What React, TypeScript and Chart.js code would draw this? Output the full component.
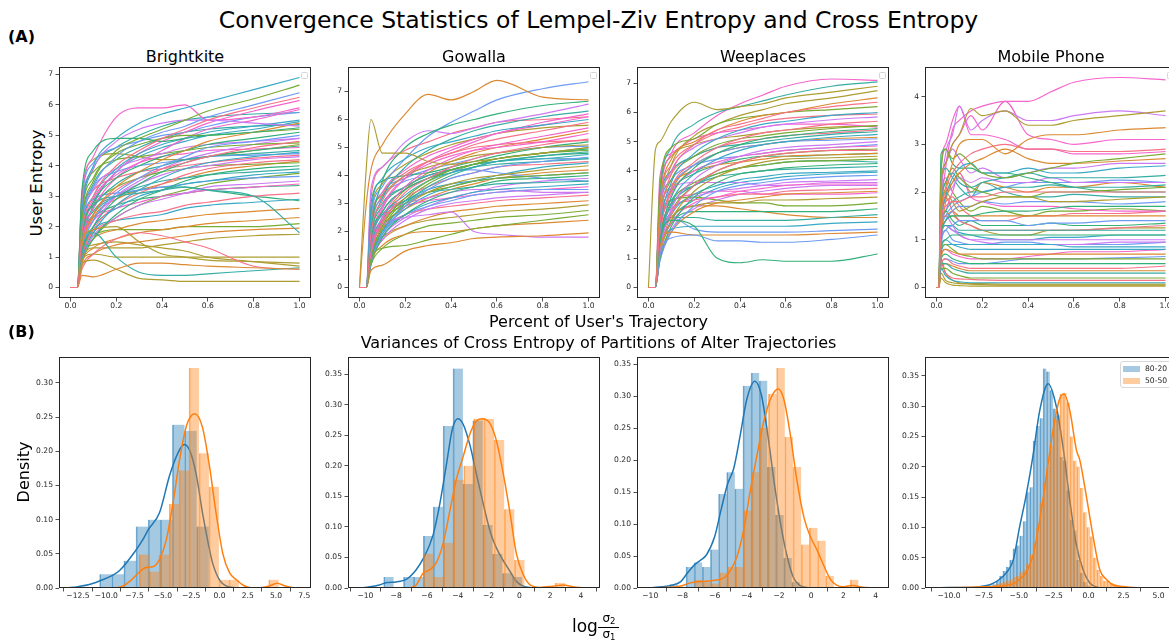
import React, { useEffect, useRef } from "react";
import { Chart, registerables } from "chart.js";

Chart.register(...registerables);

const FONT = "'DejaVu Sans', 'Liberation Sans', sans-serif";
const INK = "#262626";
Chart.defaults.font.family = FONT;

// per-user colours (husl-like cycle)
const USER_COLOURS = ["#f77189", "#dc8932", "#ae9d31", "#77ab31", "#33b07a", "#36ada4", "#38a9c5", "#6e9bf4", "#cc7af4", "#f565cc"];
const BLUE = [31, 119, 180];
const ORANGE = [255, 127, 14];

// fraction of each user's trajectory at which entropy was sampled
const TRAJ_X = [0, 0.03, 0.05, 0.1, 0.2, 0.3, 0.4, 0.5, 0.6, 0.8, 1.0];
const MOBILE_X = [0, 0.01, 0.02, 0.04, 0.07, 0.1, 0.15, 0.2, 0.3, 0.4, 0.5, 0.6, 0.8, 1.0];

const BRIGHTKITE_USERS = [
  [0, 0, 1.8, 3.0, 4.0, 4.5, 4.9, 5.2, 5.5, 5.9, 6.25],
  [0, 0, 0.4, 0.35, 0.6, 0.8, 0.8, 0.75, 0.7, 0.65, 0.6],
  [0, 0, 0.8, 0.9, 0.6, 0.3, 0.25, 0.2, 0.2, 0.2, 0.2],
  [0, 0, 2.2, 3.5, 4.5, 4.9, 5.2, 5.5, 5.8, 6.2, 6.65],
  [0, 0, 3.2, 4.5, 4.9, 4.9, 4.8, 4.9, 5.0, 5.1, 5.25],
  [0, 0, 1.2, 1.8, 1.0, 0.5, 0.4, 0.4, 0.45, 0.55, 0.65],
  [0, 0, 2.5, 4.0, 4.9, 5.4, 5.7, 5.9, 6.1, 6.5, 6.9],
  [0, 0, 2.0, 3.3, 4.3, 4.8, 5.1, 5.3, 5.6, 6.0, 6.4],
  [0, 0, 2.6, 3.9, 4.8, 5.2, 5.4, 5.5, 5.5, 5.4, 5.3],
  [0, 0, 3.0, 4.3, 5.6, 5.9, 5.9, 6.0, 5.5, 5.6, 5.9],
  [0, 0, 0.6, 1.1, 1.6, 1.8, 1.7, 1.5, 1.3, 0.7, 0.6],
  [0, 0, 1.3, 2.4, 3.3, 3.8, 4.2, 4.5, 4.8, 5.1, 5.4],
  [0, 0, 1.5, 1.9, 2.0, 1.5, 1.1, 1.0, 0.9, 0.85, 0.8],
  [0, 0, 2.4, 3.6, 4.4, 4.7, 4.9, 5.0, 5.0, 5.1, 5.2],
  [0, 0, 1.7, 2.8, 3.6, 4.0, 4.3, 4.5, 4.7, 4.9, 5.1],
  [0, 0, 1.8, 2.7, 3.0, 3.1, 3.2, 3.3, 3.2, 3.0, 1.8],
  [0, 0, 1.9, 3.0, 3.9, 4.4, 4.7, 4.9, 5.1, 5.3, 5.5],
  [0, 0, 1.2, 2.2, 3.1, 3.6, 4.0, 4.3, 4.6, 4.8, 5.0],
  [0, 0, 2.0, 3.2, 3.9, 4.2, 4.4, 4.6, 4.7, 4.8, 4.9],
  [0, 0, 1.5, 2.6, 3.6, 4.1, 4.5, 4.9, 5.2, 5.5, 5.85],
  [0, 0, 1.4, 2.4, 3.2, 3.6, 3.9, 4.1, 4.3, 4.6, 4.8],
  [0, 0, 0.8, 1.3, 1.6, 1.8, 1.9, 2.0, 2.1, 2.2, 2.3],
  [0, 0, 0.9, 1.1, 1.0, 1.0, 1.0, 1.0, 1.0, 1.0, 1.0],
  [0, 0, 2.8, 3.8, 4.2, 4.3, 4.4, 4.5, 4.6, 4.7, 4.75],
  [0, 0, 1.1, 2.0, 2.9, 3.4, 3.8, 4.1, 4.3, 4.5, 4.65],
  [0, 0, 1.6, 2.6, 3.4, 3.8, 4.0, 4.2, 4.3, 4.4, 4.5],
  [0, 0, 0.9, 1.8, 2.7, 3.2, 3.6, 3.9, 4.1, 4.3, 4.45],
  [0, 0, 2.2, 3.3, 3.8, 4.0, 4.1, 4.2, 4.3, 4.35, 4.4],
  [0, 0, 1.3, 2.2, 3.0, 3.4, 3.7, 3.9, 4.0, 4.2, 4.3],
  [0, 0, 1.6, 2.8, 3.8, 4.4, 4.8, 5.1, 5.4, 5.8, 6.15],
  [0, 0, 1.0, 1.9, 2.7, 3.1, 3.4, 3.7, 3.9, 4.1, 4.2],
  [0, 0, 0.7, 1.1, 1.4, 1.5, 1.6, 1.7, 1.8, 1.9, 1.95],
  [0, 0, 0.9, 1.3, 1.3, 1.3, 1.4, 1.5, 1.6, 1.7, 1.75],
  [0, 0, 1.8, 2.7, 3.3, 3.6, 3.8, 3.9, 4.0, 4.05, 4.1],
  [0, 0, 0.8, 1.6, 2.4, 2.9, 3.2, 3.5, 3.7, 3.9, 4.0],
  [0, 0, 1.5, 2.4, 3.0, 3.3, 3.5, 3.6, 3.7, 3.8, 3.9],
  [0, 0, 1.2, 2.0, 2.6, 3.0, 3.2, 3.4, 3.5, 3.7, 3.8],
  [0, 0, 2.0, 2.9, 3.1, 3.2, 3.3, 3.4, 3.5, 3.6, 3.65],
  [0, 0, 0.9, 1.7, 2.3, 2.7, 2.9, 3.1, 3.3, 3.4, 3.5],
  [0, 0, 1.4, 2.2, 2.6, 2.8, 3.0, 3.1, 3.2, 3.3, 3.4],
  [0, 0, 1.0, 1.8, 2.2, 2.4, 2.5, 2.7, 2.8, 3.0, 3.1],
  [0, 0, 1.0, 1.6, 1.9, 2.1, 2.2, 2.3, 2.4, 2.5, 2.6],
  [0, 0, 1.1, 1.4, 1.5, 1.4, 1.3, 1.2, 1.0, 0.85, 0.7],
  [0, 0, 1.2, 1.7, 1.9, 1.9, 1.9, 2.0, 2.0, 2.0, 2.1],
  [0, 0, 1.6, 2.5, 3.0, 3.2, 3.3, 3.3, 3.2, 3.0, 2.85],
  [0, 0, 2.1, 3.4, 4.2, 4.6, 4.9, 5.1, 5.2, 5.3, 5.35],
  [0, 0, 1.4, 2.7, 3.8, 4.3, 4.6, 4.8, 5.0, 5.2, 5.45],
  [0, 0, 2.9, 4.1, 4.6, 4.8, 5.0, 5.1, 5.3, 5.6, 5.75],
  [0, 0, 1.0, 2.0, 3.0, 3.5, 3.9, 4.2, 4.4, 4.7, 4.9],
  [0, 0, 1.7, 2.9, 3.7, 4.1, 4.3, 4.4, 4.5, 4.55, 4.6],
  [0, 0, 2.3, 3.2, 3.6, 3.8, 3.9, 4.0, 4.1, 4.25, 4.35],
  [0, 0, 1.3, 2.3, 2.9, 3.2, 3.4, 3.6, 3.8, 4.0, 4.15],
  [0, 0, 3.1, 4.2, 4.4, 4.3, 4.2, 4.2, 4.3, 4.5, 4.7],
  [0, 0, 0.9, 1.6, 2.3, 2.7, 3.0, 3.2, 3.4, 3.6, 3.75],
  [0, 0, 1.6, 2.3, 2.7, 2.9, 3.0, 3.1, 3.2, 3.3, 3.35],
  [0, 0, 2.4, 3.9, 4.6, 5.0, 5.3, 5.5, 5.6, 5.7, 5.75],
  [0, 0, 1.1, 1.9, 2.2, 2.3, 2.4, 2.6, 2.7, 2.8, 2.9],
];

const GOWALLA_USERS = [
  [0, 0, 1.9, 3.1, 4.0, 4.5, 4.8, 5.1, 5.3, 5.6, 5.9],
  [0, 3.0, 4.2, 5.1, 6.2, 6.9, 6.7, 7.0, 7.4, 6.8, 6.7],
  [0, 4.3, 6.0, 4.8, 4.8, 4.5, 4.4, 4.5, 4.6, 4.8, 5.0],
  [0, 0, 1.0, 1.4, 1.5, 1.7, 1.9, 2.1, 2.2, 2.4, 2.6],
  [0, 0, 2.0, 3.8, 5.0, 5.5, 5.8, 6.0, 6.2, 6.5, 6.65],
  [0, 0, 1.8, 3.2, 4.3, 4.9, 5.3, 5.6, 5.8, 6.1, 6.3],
  [0, 0, 2.7, 3.9, 4.6, 5.0, 5.2, 5.4, 5.6, 5.8, 6.0],
  [0, 0, 2.5, 3.6, 4.6, 5.4, 5.9, 6.3, 6.7, 7.1, 7.35],
  [0, 0, 3.5, 4.3, 5.2, 5.6, 5.5, 5.7, 5.9, 6.2, 6.55],
  [0, 0, 1.3, 2.5, 3.6, 4.2, 4.6, 4.9, 5.1, 5.4, 5.7],
  [0, 0, 1.2, 2.3, 3.4, 3.9, 4.3, 4.6, 4.8, 5.1, 5.3],
  [0, 0, 0.6, 0.8, 1.3, 1.5, 1.6, 1.75, 1.8, 1.85, 1.95],
  [0, 0, 2.4, 3.3, 4.0, 4.3, 4.5, 4.7, 4.8, 5.0, 5.1],
  [0, 0, 1.1, 2.2, 3.2, 3.8, 4.2, 4.4, 4.6, 4.8, 5.0],
  [0, 0, 1.7, 2.7, 3.5, 3.9, 4.2, 4.4, 4.6, 4.8, 4.95],
  [0, 0, 1.0, 2.0, 3.0, 3.6, 4.0, 4.3, 4.5, 4.7, 4.85],
  [0, 0, 1.4, 2.5, 3.3, 3.8, 4.1, 4.3, 4.5, 4.6, 4.75],
  [0, 0, 0.9, 1.9, 2.9, 3.5, 3.9, 4.1, 4.3, 4.5, 4.65],
  [0, 0, 1.4, 2.2, 2.5, 2.6, 2.7, 2.0, 1.9, 1.8, 1.8],
  [0, 0, 1.6, 2.9, 3.9, 4.4, 4.7, 4.9, 5.0, 5.2, 5.5],
  [0, 0, 1.5, 2.4, 3.2, 3.6, 3.9, 4.1, 4.3, 4.4, 4.5],
  [0, 0, 0.9, 1.5, 1.9, 2.0, 2.0, 2.1, 2.2, 2.3, 2.4],
  [0, 0, 1.1, 2.1, 2.9, 3.4, 3.7, 3.9, 4.0, 4.2, 4.35],
  [0, 0, 1.3, 2.3, 3.0, 3.4, 3.6, 3.8, 3.9, 4.0, 4.1],
  [0, 0, 0.8, 1.8, 2.6, 3.1, 3.4, 3.6, 3.8, 3.9, 4.0],
  [0, 0, 1.6, 2.6, 3.1, 3.4, 3.5, 3.6, 3.7, 3.75, 3.8],
  [0, 0, 1.0, 1.9, 2.6, 3.0, 3.2, 3.4, 3.5, 3.6, 3.7],
  [0, 0, 1.2, 2.0, 2.6, 2.9, 3.1, 3.3, 3.4, 3.5, 3.5],
  [0, 0, 0.9, 1.7, 2.4, 2.8, 3.0, 3.1, 3.2, 3.3, 3.4],
  [0, 0, 2.2, 3.4, 4.2, 4.7, 5.0, 5.3, 5.5, 5.9, 6.2],
  [0, 0, 1.4, 2.1, 2.6, 2.8, 2.9, 3.0, 3.1, 3.2, 3.3],
  [0, 0, 1.0, 1.7, 2.2, 2.5, 2.7, 2.8, 2.9, 3.0, 3.1],
  [0, 0, 1.2, 1.8, 2.2, 2.4, 2.5, 2.6, 2.7, 2.8, 2.95],
  [0, 0, 0.8, 1.4, 1.9, 2.2, 2.3, 2.4, 2.5, 2.6, 2.75],
  [0, 0, 3.0, 3.8, 4.0, 4.1, 4.3, 4.5, 4.7, 5.0, 5.2],
  [0, 0, 1.9, 3.0, 3.6, 4.0, 4.2, 4.4, 4.5, 4.6, 4.6],
  [0, 0, 1.3, 2.4, 3.1, 3.5, 3.7, 3.8, 3.9, 4.0, 4.1],
  [0, 0, 2.1, 3.2, 3.8, 4.0, 4.2, 4.2, 4.1, 3.9, 3.8],
  [0, 0, 1.7, 2.6, 3.0, 3.2, 3.4, 3.5, 3.5, 3.4, 3.4],
  [0, 0, 1.5, 2.8, 3.9, 4.5, 4.9, 5.2, 5.5, 5.8, 6.1],
  [0, 0, 2.0, 3.3, 4.1, 4.5, 4.8, 5.0, 5.1, 5.2, 5.25],
  [0, 0, 1.2, 2.4, 3.5, 4.1, 4.5, 4.8, 5.0, 5.3, 5.6],
  [0, 0, 2.6, 3.7, 4.4, 4.8, 5.1, 5.3, 5.5, 5.7, 5.8],
  [0, 0, 1.0, 2.1, 3.1, 3.7, 4.1, 4.4, 4.6, 4.8, 4.9],
  [0, 0, 1.8, 2.9, 3.6, 4.0, 4.2, 4.4, 4.5, 4.7, 4.8],
  [0, 0, 1.5, 2.7, 3.5, 3.9, 4.1, 4.3, 4.4, 4.5, 4.6],
  [0, 0, 1.1, 2.0, 2.8, 3.3, 3.6, 3.8, 4.0, 4.3, 4.45],
  [0, 0, 2.3, 3.4, 3.9, 4.2, 4.4, 4.6, 4.8, 5.0, 5.05],
  [0, 0, 0.9, 1.8, 2.5, 2.9, 3.2, 3.4, 3.6, 3.8, 3.9],
  [0, 0, 1.4, 2.4, 2.9, 3.1, 3.2, 3.3, 3.4, 3.5, 3.6],
  [0, 0, 3.2, 4.3, 4.9, 5.2, 5.5, 5.7, 5.9, 6.0, 6.1],
  [0, 0, 1.3, 2.2, 2.8, 3.2, 3.5, 3.7, 3.9, 4.1, 4.2],
];

const WEEPLACES_USERS = [
  [0, 0, 2.2, 3.9, 4.9, 5.4, 5.6, 5.8, 6.0, 6.2, 6.35],
  [0, 0, 2.8, 4.4, 5.0, 5.4, 5.7, 5.9, 6.0, 6.3, 6.5],
  [0, 4.7, 5.0, 5.7, 6.35, 6.1, 6.2, 6.3, 6.5, 6.7, 6.9],
  [0, 0, 3.5, 4.8, 5.1, 5.6, 5.8, 5.9, 6.0, 6.1, 6.2],
  [0, 0, 1.6, 2.3, 2.1, 1.0, 0.85, 0.95, 0.9, 0.9, 1.15],
  [0, 0, 3.2, 4.8, 5.6, 6.0, 6.2, 6.4, 6.6, 6.9, 7.05],
  [0, 0, 2.0, 3.6, 4.6, 5.1, 5.4, 5.6, 5.7, 5.9, 6.0],
  [0, 0, 1.1, 1.7, 1.8, 1.6, 1.6, 1.55, 1.55, 1.65, 1.8],
  [0, 0, 2.6, 4.0, 4.8, 5.1, 5.3, 5.5, 5.6, 5.75, 5.85],
  [0, 0, 3.0, 4.6, 5.3, 5.9, 6.3, 6.6, 6.9, 7.15, 7.1],
  [0, 0, 1.8, 3.4, 4.3, 4.8, 5.1, 5.3, 5.4, 5.6, 5.7],
  [0, 0, 1.4, 1.9, 1.8, 1.8, 1.8, 1.8, 1.8, 1.85, 1.9],
  [0, 0, 2.5, 4.2, 5.2, 5.6, 5.9, 6.1, 6.3, 6.5, 6.75],
  [0, 0, 2.3, 3.7, 4.5, 4.9, 5.1, 5.2, 5.3, 5.45, 5.55],
  [0, 0, 1.6, 3.1, 4.1, 4.6, 4.9, 5.1, 5.2, 5.35, 5.45],
  [0, 0, 2.9, 4.0, 4.5, 4.8, 4.9, 5.0, 5.1, 5.25, 5.35],
  [0, 0, 1.5, 2.9, 3.9, 4.4, 4.7, 4.9, 5.0, 5.15, 5.25],
  [0, 0, 2.1, 3.4, 4.2, 4.6, 4.8, 4.9, 5.0, 5.05, 5.1],
  [0, 0, 1.3, 2.7, 3.7, 4.2, 4.5, 4.7, 4.8, 4.9, 5.0],
  [0, 0, 1.9, 3.2, 4.0, 4.3, 4.5, 4.6, 4.7, 4.8, 4.85],
  [0, 0, 1.2, 2.5, 3.5, 4.0, 4.3, 4.5, 4.6, 4.7, 4.7],
  [0, 0, 2.4, 3.5, 4.0, 4.2, 4.3, 4.4, 4.5, 4.55, 4.6],
  [0, 0, 1.1, 2.3, 3.3, 3.8, 4.1, 4.3, 4.4, 4.45, 4.5],
  [0, 0, 1.7, 2.9, 3.6, 3.9, 4.1, 4.2, 4.3, 4.35, 4.4],
  [0, 0, 1.0, 2.1, 3.1, 3.6, 3.9, 4.0, 4.1, 4.2, 4.25],
  [0, 0, 2.0, 3.0, 3.5, 3.8, 3.9, 4.0, 4.05, 4.1, 4.15],
  [0, 0, 1.4, 2.5, 3.2, 3.5, 3.7, 3.8, 3.9, 3.95, 4.0],
  [0, 0, 0.9, 1.9, 2.8, 3.3, 3.5, 3.6, 3.7, 3.8, 3.85],
  [0, 0, 1.6, 2.6, 3.1, 3.3, 3.4, 3.5, 3.6, 3.65, 3.7],
  [0, 0, 1.2, 2.2, 2.9, 3.1, 3.3, 3.4, 3.5, 3.55, 3.55],
  [0, 0, 1.8, 2.7, 3.0, 3.1, 3.2, 3.2, 3.3, 3.35, 3.4],
  [0, 0, 1.0, 1.9, 2.6, 2.9, 3.0, 3.1, 3.2, 3.25, 3.3],
  [0, 0, 1.5, 2.4, 2.8, 2.9, 2.9, 3.0, 3.0, 3.05, 3.1],
  [0, 0, 2.2, 3.0, 3.1, 3.0, 2.9, 2.9, 2.8, 2.8, 2.9],
  [0, 0, 1.3, 2.2, 2.6, 2.6, 2.6, 2.6, 2.6, 2.6, 2.7],
  [0, 0, 1.7, 2.4, 2.4, 2.3, 2.3, 2.3, 2.3, 2.4, 2.5],
  [0, 0, 1.2, 2.0, 2.1, 2.1, 2.1, 2.1, 2.1, 2.2, 2.25],
  [0, 0, 1.9, 2.4, 2.0, 1.9, 1.9, 1.9, 1.9, 1.95, 2.0],
  [0, 0, 2.5, 3.4, 3.6, 3.6, 3.6, 3.5, 3.5, 3.6, 3.6],
  [0, 0, 3.8, 4.6, 5.1, 5.3, 5.4, 5.5, 5.6, 5.6, 5.5],
  [0, 0, 2.7, 3.9, 4.5, 4.8, 5.0, 5.1, 5.2, 5.3, 5.4],
  [0, 0, 1.9, 3.3, 4.2, 4.6, 4.8, 4.9, 5.0, 5.1, 5.15],
  [0, 0, 3.3, 4.5, 4.9, 5.1, 5.2, 5.3, 5.4, 5.5, 5.55],
  [0, 0, 1.4, 2.6, 3.5, 4.0, 4.3, 4.5, 4.6, 4.7, 4.75],
  [0, 0, 2.2, 3.3, 3.9, 4.2, 4.4, 4.5, 4.5, 4.55, 4.6],
  [0, 0, 1.6, 2.8, 3.5, 3.9, 4.1, 4.2, 4.3, 4.35, 4.3],
  [0, 0, 1.2, 2.3, 3.0, 3.4, 3.6, 3.7, 3.8, 3.9, 3.95],
  [0, 0, 2.6, 3.7, 4.2, 4.4, 4.5, 4.6, 4.7, 4.8, 4.9],
  [0, 0, 1.0, 2.0, 2.7, 3.0, 3.2, 3.3, 3.4, 3.5, 3.5],
  [0, 0, 2.0, 2.9, 3.2, 3.3, 3.3, 3.2, 3.2, 3.2, 3.25],
  [0, 0, 2.9, 4.2, 4.9, 5.3, 5.5, 5.7, 5.8, 5.9, 5.95],
  [0, 0, 1.5, 2.4, 2.8, 2.8, 2.7, 2.6, 2.5, 2.4, 2.4],
];

const MOBILE_USERS = [
  [0, 0, 1.4, 1.7, 1.8, 1.8, 1.9, 1.9, 2.0, 2.0, 2.0, 2.0, 2.0, 2.0],
  [0, 0, 1.5, 2.1, 2.6, 3.0, 3.1, 3.1, 2.8, 3.1, 3.2, 3.2, 3.3, 3.35],
  [0, 0, 2.2, 2.6, 3.0, 3.2, 3.75, 3.6, 3.7, 3.4, 3.4, 3.5, 3.6, 3.7],
  [0, 0, 2.4, 2.9, 2.7, 2.8, 2.6, 2.4, 2.3, 2.4, 2.5, 2.6, 2.7, 2.8],
  [0, 0, 1.1, 1.4, 1.5, 1.5, 1.5, 1.55, 1.6, 1.6, 1.65, 1.7, 1.7, 1.7],
  [0, 0, 1.6, 2.2, 2.4, 2.2, 2.1, 2.2, 2.3, 2.4, 2.3, 2.3, 2.3, 2.35],
  [0, 0, 1.3, 1.9, 2.3, 2.5, 2.6, 2.4, 2.4, 2.5, 2.4, 2.4, 2.5, 2.55],
  [0, 0, 0.9, 1.2, 1.3, 1.4, 1.4, 1.4, 1.4, 1.3, 1.35, 1.35, 1.4, 1.4],
  [0, 0, 1.8, 2.8, 3.2, 3.8, 3.3, 3.5, 3.7, 3.5, 3.5, 3.6, 3.7, 3.6],
  [0, 0, 1.5, 2.5, 3.3, 3.5, 3.7, 3.8, 3.9, 3.9, 4.1, 4.3, 4.4, 4.35],
  [0, 0, 1.2, 2.0, 2.4, 2.6, 2.8, 2.9, 3.0, 2.9, 2.9, 2.85, 2.85, 2.9],
  [0, 0, 1.0, 1.8, 2.2, 2.4, 2.6, 2.7, 2.9, 2.7, 2.6, 2.6, 2.65, 2.7],
  [0, 0, 1.9, 2.0, 1.8, 1.6, 1.7, 1.8, 1.9, 1.9, 1.8, 1.8, 1.85, 1.9],
  [0, 0, 1.8, 2.2, 2.5, 2.3, 2.1, 2.0, 1.9, 1.9, 2.0, 2.0, 2.05, 2.1],
  [0, 0, 0.8, 1.0, 1.1, 1.1, 1.1, 1.1, 1.1, 1.1, 1.1, 1.1, 1.1, 1.1],
  [0, 0, 1.2, 1.6, 1.8, 1.9, 2.0, 2.0, 2.1, 2.1, 2.15, 2.1, 2.1, 2.15],
  [0, 0, 0.9, 1.0, 0.9, 0.85, 0.8, 0.8, 0.8, 0.8, 0.8, 0.8, 0.8, 0.8],
  [0, 0, 1.0, 1.4, 1.6, 1.7, 1.7, 1.8, 1.75, 1.8, 1.8, 1.8, 1.75, 1.8],
  [0, 0, 1.4, 1.9, 2.1, 2.3, 2.2, 2.3, 2.2, 2.2, 2.3, 2.2, 2.2, 2.2],
  [0, 0, 2.0, 2.6, 3.0, 3.2, 3.6, 3.3, 3.9, 3.2, 3.1, 3.0, 3.1, 3.1],
  [0, 0, 0.5, 0.6, 0.5, 0.45, 0.4, 0.4, 0.4, 0.4, 0.4, 0.4, 0.4, 0.45],
  [0, 0, 0.6, 0.8, 0.75, 0.7, 0.7, 0.7, 0.7, 0.7, 0.7, 0.7, 0.7, 0.7],
  [0, 0, 0.3, 0.15, 0.1, 0.08, 0.07, 0.06, 0.05, 0.05, 0.05, 0.05, 0.05, 0.05],
  [0, 0, 0.8, 0.9, 0.8, 0.7, 0.65, 0.6, 0.6, 0.6, 0.6, 0.6, 0.6, 0.6],
  [0, 0, 2.8, 2.9, 2.6, 2.5, 2.5, 2.4, 2.4, 2.3, 2.2, 2.1, 2.0, 2.0],
  [0, 0, 1.2, 1.3, 1.3, 1.2, 1.2, 1.2, 1.2, 1.2, 1.2, 1.2, 1.2, 1.2],
  [0, 0, 0.7, 0.9, 0.9, 0.9, 0.9, 0.9, 0.9, 0.9, 0.9, 0.85, 0.85, 0.85],
  [0, 0, 1.1, 1.5, 1.7, 1.8, 1.9, 2.0, 2.1, 2.2, 2.2, 2.2, 2.25, 2.2],
  [0, 0, 1.0, 1.3, 1.2, 1.1, 1.0, 1.0, 1.0, 1.0, 1.0, 1.0, 1.0, 1.0],
  [0, 0, 1.2, 1.6, 2.0, 2.4, 1.9, 1.8, 1.7, 1.7, 1.7, 1.65, 1.6, 1.6],
  [0, 0, 1.5, 1.9, 1.6, 1.4, 1.3, 1.2, 1.2, 1.2, 1.2, 1.2, 1.25, 1.3],
  [0, 0, 1.3, 1.5, 1.6, 1.5, 1.5, 1.5, 1.5, 1.5, 1.5, 1.5, 1.5, 1.5],
  [0, 0, 0.2, 0.1, 0.05, 0.04, 0.03, 0.03, 0.03, 0.03, 0.03, 0.03, 0.03, 0.03],
  [0, 0, 0.4, 0.4, 0.3, 0.25, 0.2, 0.2, 0.2, 0.2, 0.2, 0.2, 0.2, 0.2],
  [0, 0, 0.6, 0.7, 0.6, 0.55, 0.5, 0.5, 0.5, 0.5, 0.5, 0.5, 0.5, 0.5],
  [0, 0, 0.5, 0.5, 0.4, 0.35, 0.3, 0.3, 0.3, 0.3, 0.3, 0.3, 0.3, 0.3],
  [0, 0, 0.4, 0.25, 0.15, 0.12, 0.1, 0.1, 0.1, 0.1, 0.1, 0.1, 0.1, 0.1],
  [0, 0, 0.5, 0.6, 0.55, 0.5, 0.5, 0.5, 0.55, 0.6, 0.6, 0.6, 0.62, 0.65],
  [0, 0, 1.4, 1.5, 1.3, 1.1, 1.0, 0.95, 0.9, 0.9, 0.9, 0.9, 0.95, 0.95],
  [0, 0, 2.5, 3.0, 3.5, 3.8, 3.2, 3.2, 3.1, 2.9, 2.9, 2.8, 2.8, 2.85],
  [0, 0, 0.5, 0.3, 0.2, 0.18, 0.17, 0.16, 0.15, 0.15, 0.15, 0.15, 0.15, 0.15],
  [0, 0, 1.6, 2.0, 2.2, 2.4, 2.0, 2.2, 2.1, 2.0, 2.1, 2.1, 2.2, 2.1],
  [0, 0, 0.6, 0.3, 0.15, 0.1, 0.08, 0.08, 0.07, 0.07, 0.07, 0.07, 0.07, 0.07],
  [0, 0, 1.7, 2.3, 2.0, 1.8, 1.6, 1.7, 1.6, 1.5, 1.6, 1.6, 1.65, 1.6],
  [0, 0, 1.3, 1.6, 1.4, 1.3, 1.4, 1.3, 1.3, 1.3, 1.35, 1.3, 1.3, 1.35],
  [0, 0, 2.0, 2.5, 2.3, 2.1, 1.9, 2.2, 2.0, 1.9, 1.9, 1.95, 1.9, 1.9],
  [0, 0, 1.1, 1.3, 1.2, 1.15, 1.1, 1.05, 1.0, 1.0, 1.05, 1.05, 1.1, 1.1],
  [0, 0, 0.9, 1.2, 1.0, 0.95, 0.9, 0.9, 0.95, 0.95, 0.9, 0.9, 0.9, 0.95],
  [0, 0, 2.2, 2.6, 2.9, 2.7, 2.4, 2.5, 2.3, 2.4, 2.5, 2.5, 2.6, 2.6],
  [0, 0, 0.7, 0.8, 0.7, 0.65, 0.6, 0.6, 0.6, 0.65, 0.7, 0.75, 0.75, 0.8],
  [0, 0, 1.5, 1.8, 1.9, 1.7, 1.5, 1.4, 1.4, 1.5, 1.5, 1.55, 1.55, 1.6],
  [0, 0, 0.45, 0.5, 0.45, 0.4, 0.35, 0.35, 0.35, 0.35, 0.35, 0.35, 0.35, 0.35],
  [0, 0, 1.0, 1.4, 1.5, 1.4, 1.3, 1.2, 1.1, 1.1, 1.2, 1.2, 1.25, 1.25],
];

// histograms of log(sigma2/sigma1): first bin edge, bin width, density per bin
const BK_8020_HIST = { start: -10.59, width: 1.072, density: [0.02, 0.02, 0.04, 0.09, 0.1, 0.1, 0.239, 0.23, 0.09] };
const BK_5050_HIST = { start: -7.09, width: 0.88, density: [0.049, 0.024, 0.049, 0.123, 0.172, 0.322, 0.197, 0.148, 0.012, 0.012, 0, 0, 0, 0.012] };
const GW_8020_HIST = { start: -8.81, width: 0.643, density: [0.018, 0, 0.018, 0.018, 0.085, 0.133, 0.265, 0.359, 0.17, 0.274, 0.103, 0.056, 0.024, 0.018] };
const GW_5050_HIST = { start: -6.25, width: 0.659, density: [0.056, 0.018, 0.074, 0.177, 0.2, 0.277, 0.277, 0.242, 0.129, 0.046, 0, 0, 0, 0.008] };
const WP_8020_HIST = { start: -8.785, width: 0.505, density: [0.006, 0, 0.033, 0.04, 0.033, 0.06, 0.147, 0.181, 0.155, 0.316, 0.336, 0.324, 0.189, 0.114, 0.047, 0.009] };
const WP_5050_HIST = { start: -7.23, width: 0.508, density: [0.013, 0.009, 0.007, 0.024, 0.033, 0.033, 0.121, 0.181, 0.25, 0.303, 0.344, 0.236, 0.189, 0.068, 0.094, 0.074, 0.019, 0, 0, 0.013] };
const MP_8020_HIST = {
  start: -7.58, width: 0.24,
  density: [0.003, 0.003, 0.004, 0.006, 0.012, 0.02, 0.028, 0.035, 0.046, 0.065, 0.07, 0.086, 0.11, 0.158, 0.166, 0.243, 0.267, 0.28, 0.362, 0.357, 0.326, 0.296, 0.285, 0.216, 0.21, 0.161, 0.112, 0.095, 0.046, 0.025, 0.01, 0.004, 0.002],
};
const MP_5050_HIST = {
  start: -7.1, width: 0.24,
  density: [0.002, 0.004, 0.006, 0.008, 0.01, 0.012, 0.014, 0.018, 0.02, 0.026, 0.03, 0.04, 0.055, 0.075, 0.1, 0.14, 0.175, 0.2, 0.235, 0.279, 0.278, 0.32, 0.322, 0.306, 0.25, 0.21, 0.2, 0.165, 0.125, 0.1, 0.085, 0.05, 0.03, 0.02, 0.012, 0.012, 0.008, 0.006, 0.004, 0.003],
};

// kernel density estimates as [x, density] pairs
const BK_8020_KDE = [[-13.5, 0], [-12.5, 0.002], [-11.5, 0.005], [-10.5, 0.011], [-9.5, 0.018], [-8.8, 0.026], [-7.4, 0.055], [-6.8, 0.07], [-6.3, 0.085], [-5.3, 0.11], [-4.4, 0.165], [-3.6, 0.2], [-3.1, 0.21], [-2.6, 0.2], [-2.05, 0.166], [-1.5, 0.11], [-1.0, 0.066], [-0.6, 0.036], [0.0, 0.012], [0.6, 0.003], [1.5, 0]];
const BK_5050_KDE = [[-9.2, 0], [-8.5, 0.003], [-7.9, 0.01], [-7.1, 0.023], [-6.5, 0.03], [-5.9, 0.031], [-5.3, 0.042], [-4.7, 0.07], [-4.1, 0.125], [-3.5, 0.19], [-2.9, 0.238], [-2.2, 0.255], [-1.5, 0.235], [-0.9, 0.18], [-0.3, 0.11], [0.3, 0.05], [0.9, 0.022], [1.5, 0.012], [2.1, 0.004], [2.8, 0.0005], [3.6, 0.0005], [4.4, 0.003], [5.1, 0.007], [5.8, 0.003], [6.5, 0.0005], [7.2, 0]];
const GW_8020_KDE = [[-10.4, 0], [-9.7, 0.002], [-9.1, 0.005], [-8.6, 0.009], [-8.0, 0.01], [-7.3, 0.015], [-6.7, 0.03], [-6.2, 0.05], [-5.6, 0.087], [-5.2, 0.133], [-4.75, 0.2], [-4.35, 0.26], [-4.0, 0.277], [-3.65, 0.268], [-3.2, 0.233], [-2.8, 0.188], [-2.3, 0.133], [-1.9, 0.093], [-1.5, 0.066], [-1.05, 0.045], [-0.6, 0.027], [-0.2, 0.011], [0.25, 0.003], [0.9, 0]];
const GW_5050_KDE = [[-7.1, 0], [-6.7, 0.005], [-6.25, 0.024], [-5.8, 0.03], [-5.4, 0.041], [-4.95, 0.073], [-4.5, 0.128], [-4.1, 0.177], [-3.65, 0.215], [-3.2, 0.253], [-2.8, 0.273], [-2.4, 0.277], [-1.9, 0.269], [-1.5, 0.242], [-1.05, 0.188], [-0.6, 0.122], [-0.2, 0.057], [0.25, 0.022], [0.7, 0.005], [1.3, 0.001], [2.2, 0.003], [2.85, 0.005], [3.5, 0.002], [4.15, 0]];
const WP_8020_KDE = [[-10, 0], [-9.3, 0.002], [-8.7, 0.004], [-8.1, 0.01], [-7.7, 0.023], [-7.3, 0.035], [-6.9, 0.043], [-6.5, 0.052], [-6.0, 0.08], [-5.6, 0.122], [-5.2, 0.162], [-4.8, 0.188], [-4.4, 0.24], [-4.0, 0.295], [-3.5, 0.323], [-3.1, 0.302], [-2.7, 0.24], [-2.3, 0.165], [-1.9, 0.1], [-1.5, 0.05], [-1.1, 0.016], [-0.7, 0.004], [-0.1, 0]];
const WP_5050_KDE = [[-10, 0], [-8.9, 0.001], [-8.1, 0.003], [-7.5, 0.008], [-6.9, 0.01], [-6.0, 0.012], [-5.4, 0.016], [-5.0, 0.028], [-4.6, 0.05], [-4.2, 0.09], [-3.8, 0.15], [-3.35, 0.21], [-2.95, 0.26], [-2.5, 0.297], [-2.05, 0.311], [-1.7, 0.295], [-1.3, 0.24], [-0.9, 0.17], [-0.45, 0.11], [-0.05, 0.08], [0.35, 0.06], [0.8, 0.034], [1.2, 0.013], [1.6, 0.004], [2.0, 0.002], [2.6, 0.004], [3.2, 0.001], [3.9, 0]];
const MP_8020_KDE = [[-11, 0], [-10, 0.001], [-9, 0.001], [-8.3, 0.001], [-7.3, 0.004], [-6.9, 0.007], [-6.4, 0.014], [-5.9, 0.025], [-5.4, 0.046], [-4.95, 0.1], [-4.5, 0.15], [-4.0, 0.216], [-3.5, 0.293], [-2.9, 0.337], [-2.3, 0.298], [-1.8, 0.227], [-1.35, 0.145], [-0.9, 0.074], [-0.4, 0.03], [0.1, 0.008], [0.8, 0]];
const MP_5050_KDE = [[-11, 0], [-9, 0.001], [-7.5, 0.002], [-6.4, 0.003], [-5.4, 0.007], [-4.95, 0.014], [-4.5, 0.025], [-4.0, 0.052], [-3.5, 0.112], [-3.0, 0.189], [-2.55, 0.26], [-2.07, 0.312], [-1.76, 0.32], [-1.35, 0.293], [-0.87, 0.227], [-0.63, 0.211], [-0.16, 0.151], [0.32, 0.085], [0.8, 0.03], [1.28, 0.014], [1.76, 0.005], [2.24, 0.003], [3.2, 0.001], [4.2, 0]];

// ---- layout ----
const PANEL_LEFTS = [59, 348, 637, 925];
const TOP_ROW = 67;
const BOTTOM_ROW = 357;
const BOX_W = 252;
const BOX_H = 231;
const AXIS_W = 46;
const AXIS_H = 22;
const PAD = 3;
const CANVAS_W = AXIS_W + BOX_W + PAD;
const CANVAS_H = PAD + BOX_H + AXIS_H;
const TICK_FONT = { family: FONT, size: 7.6 };

const rgba = (c: number[], a: number) => `rgba(${c[0]},${c[1]},${c[2]},${a})`;
const fmt = (v: number, d: number) => {
  const s = Math.abs(v).toFixed(d);
  return v < -1e-9 ? "\u2212" + s : s;
};

// draws the four spines around the plotting area
const framePlugin = {
  id: "frame",
  afterDraw(chart: any) {
    const { ctx, chartArea: a } = chart;
    ctx.save();
    ctx.strokeStyle = INK;
    ctx.lineWidth = 1;
    ctx.strokeRect(Math.round(a.left) + 0.5, Math.round(a.top) + 0.5, Math.round(a.right - a.left) - 1, Math.round(a.bottom - a.top) - 1);
    ctx.restore();
  },
};

const tickGrid = { display: true, drawOnChartArea: false, drawTicks: true, tickLength: 3.5, color: INK, tickColor: INK, tickWidth: 0.8 };

function xAxis(min: number, max: number, step: number, decimals: number) {
  return {
    type: "linear", min, max, offset: false,
    grid: tickGrid, border: { display: false },
    ticks: { stepSize: step, includeBounds: false, autoSkip: false, maxRotation: 0, padding: 0, color: INK, font: TICK_FONT, callback: (v: number) => fmt(v, decimals) },
    afterFit: (s: any) => { s.height = AXIS_H; s.paddingLeft = 0; s.paddingRight = 0; },
  };
}
function yAxis(min: number, max: number, step: number, decimals: number) {
  return {
    type: "linear", min, max,
    grid: tickGrid, border: { display: false },
    ticks: { stepSize: step, includeBounds: false, autoSkip: false, padding: 2.5, color: INK, font: TICK_FONT, callback: (v: number) => fmt(v, decimals) },
    afterFit: (s: any) => { s.width = AXIS_W; s.paddingTop = 0; s.paddingBottom = 0; },
  };
}
const baseOptions = {
  animation: false, responsive: false, devicePixelRatio: 1, events: [],
  layout: { padding: { top: PAD, right: PAD, left: 0, bottom: 0 } },
  plugins: { legend: { display: false }, tooltip: { enabled: false }, title: { display: false } },
};

const canvasStyle = (left: number, top: number): React.CSSProperties => ({
  position: "absolute", left: left - AXIS_W, top: top - PAD, width: CANVAS_W, height: CANVAS_H,
});

function EmptyLegend({ left, top }: { left: number; top: number }) {
  return <div style={{ position: "absolute", left: left + BOX_W - 10, top: top + 5, width: 5, height: 5, border: "1px solid #d5d5d5", borderRadius: 1.5, background: "#fff" }} />;
}

function TrajectoryPanel({ left, title, xs, users, yMin, yMax }: any) {
  const ref = useRef<HTMLCanvasElement>(null);
  useEffect(() => {
    const chart = new Chart(ref.current as HTMLCanvasElement, {
      type: "line",
      data: {
        datasets: users.map((vals: number[], i: number) => ({
          data: vals.map((y, j) => ({ x: xs[j], y })),
          borderColor: USER_COLOURS[i % USER_COLOURS.length],
          borderWidth: 1.15, pointRadius: 0, fill: false, cubicInterpolationMode: "monotone",
        })),
      },
      options: { ...baseOptions, scales: { x: xAxis(-0.05, 1.05, 0.2, 1), y: yAxis(yMin, yMax, 1, 0) } } as any,
      plugins: [framePlugin],
    });
    return () => chart.destroy();
  }, []);
  return (
    <>
      <div style={{ position: "absolute", left: left + BOX_W / 2, top: 49, transform: "translateX(-50%)", fontSize: 16, lineHeight: 1, whiteSpace: "nowrap" }}>{title}</div>
      <canvas ref={ref} width={CANVAS_W} height={CANVAS_H} style={canvasStyle(left, TOP_ROW)} />
      <EmptyLegend left={left} top={TOP_ROW} />
    </>
  );
}

function histBars(h: any, colour: number[], axis: string, order: number) {
  return {
    type: "bar", xAxisID: axis, order,
    data: h.density.map((d: number, i: number) => ({ x: h.start + (i + 0.5) * h.width, y: d })),
    backgroundColor: rgba(colour, 0.4), borderColor: rgba(colour, 0.6),
    borderWidth: { left: 1, right: 0, top: 0, bottom: 0 },
    categoryPercentage: 1, barPercentage: 1, grouped: false,
  };
}
function kdeLine(k: number[][], colour: number[], order: number) {
  return {
    type: "line", xAxisID: "x", order,
    data: k.map(([x, y]) => ({ x, y })),
    borderColor: rgba(colour, 1), borderWidth: 1.5, pointRadius: 0, fill: false, cubicInterpolationMode: "monotone",
  };
}

function DensityPanel({ left, blue, orange, blueKde, orangeKde, xMin, xMax, xStep, xDecimals, yMax }: any) {
  const ref = useRef<HTMLCanvasElement>(null);
  useEffect(() => {
    const chart = new Chart(ref.current as HTMLCanvasElement, {
      type: "line",
      data: {
        datasets: [
          histBars(blue, BLUE, "x", 3),
          kdeLine(blueKde, BLUE, 2),
          histBars(orange, ORANGE, "x2", 1),
          kdeLine(orangeKde, ORANGE, 0),
        ] as any,
      },
      options: {
        ...baseOptions,
        scales: {
          x: xAxis(xMin, xMax, xStep, xDecimals),
          x2: { type: "linear", display: false, min: xMin, max: xMax, offset: false, ticks: { stepSize: xStep, includeBounds: false } },
          y: yAxis(0, yMax, 0.05, 2),
        },
      } as any,
      plugins: [framePlugin],
    });
    return () => chart.destroy();
  }, []);
  return <canvas ref={ref} width={CANVAS_W} height={CANVAS_H} style={canvasStyle(left, BOTTOM_ROW)} />;
}

const TRAJ_PANELS = [
  { title: "Brightkite", xs: TRAJ_X, users: BRIGHTKITE_USERS, yMin: -0.345, yMax: 7.245 },
  { title: "Gowalla", xs: TRAJ_X, users: GOWALLA_USERS, yMin: -0.375, yMax: 7.875 },
  { title: "Weeplaces", xs: TRAJ_X, users: WEEPLACES_USERS, yMin: -0.36, yMax: 7.56 },
  { title: "Mobile Phone", xs: MOBILE_X, users: MOBILE_USERS, yMin: -0.22, yMax: 4.62 },
];
const DENSITY_PANELS = [
  { blue: BK_8020_HIST, orange: BK_5050_HIST, blueKde: BK_8020_KDE, orangeKde: BK_5050_KDE, xMin: -14.18, xMax: 8.09, xStep: 2.5, xDecimals: 1, yMax: 0.338 },
  { blue: GW_8020_HIST, orange: GW_5050_HIST, blueKde: GW_8020_KDE, orangeKde: GW_5050_KDE, xMin: -11.13, xMax: 5.24, xStep: 2, xDecimals: 0, yMax: 0.378 },
  { blue: WP_8020_HIST, orange: WP_5050_HIST, blueKde: WP_8020_KDE, orangeKde: WP_5050_KDE, xMin: -10.82, xMax: 4.83, xStep: 2, xDecimals: 0, yMax: 0.361 },
  { blue: MP_8020_HIST, orange: MP_5050_HIST, blueKde: MP_8020_KDE, orangeKde: MP_5050_KDE, xMin: -11.72, xMax: 6.33, xStep: 2.5, xDecimals: 1, yMax: 0.381 },
];

const abs = (o: React.CSSProperties): React.CSSProperties => ({ position: "absolute", lineHeight: 1, whiteSpace: "nowrap", ...o });

export default function App() {
  return (
    <div style={{ position: "absolute", left: 0, top: 0, width: 1169, height: 642, overflow: "hidden", background: "#fff", fontFamily: FONT, color: "#000" }}>
      <div style={abs({ left: 0, top: 9, width: 1197, textAlign: "center", fontSize: 23.5 })}>Convergence Statistics of Lempel-Ziv Entropy and Cross Entropy</div>
      <div style={abs({ left: 8, top: 28.5, fontSize: 16, fontWeight: "bold" })}>(A)</div>
      <div style={abs({ left: 37, top: 183, fontSize: 16.5, transform: "translate(-50%,-50%) rotate(-90deg)" })}>User Entropy</div>

      {TRAJ_PANELS.map((p, i) => (
        <TrajectoryPanel key={p.title} left={PANEL_LEFTS[i]} {...p} />
      ))}

      <div style={abs({ left: 0, top: 314, width: 1197, textAlign: "center", fontSize: 16 })}>Percent of User's Trajectory</div>
      <div style={abs({ left: 8, top: 323.5, fontSize: 16, fontWeight: "bold" })}>(B)</div>
      <div style={abs({ left: 0, top: 334.5, width: 1197, textAlign: "center", fontSize: 16 })}>Variances of Cross Entropy of Partitions of Alter Trajectories</div>
      <div style={abs({ left: 24, top: 472, fontSize: 16, transform: "translate(-50%,-50%) rotate(-90deg)" })}>Density</div>

      {DENSITY_PANELS.map((p, i) => (
        <DensityPanel key={i} left={PANEL_LEFTS[i]} {...p} />
      ))}

      {/* split legend inside the last density panel */}
      <div style={{ position: "absolute", left: 1120, top: 361, width: 70, height: 25, border: "1px solid #d8d8d8", borderRadius: 3, background: "rgba(255,255,255,0.8)" }}>
        <div style={{ position: "absolute", left: 2, top: 4, width: 17, height: 6, background: rgba(BLUE, 0.4) }} />
        <div style={abs({ left: 24, top: 3, fontSize: 7.6, color: INK })}>80-20</div>
        <div style={{ position: "absolute", left: 2, top: 15.5, width: 17, height: 6, background: rgba(ORANGE, 0.4) }} />
        <div style={abs({ left: 24, top: 14.5, fontSize: 7.6, color: INK })}>50-50</div>
      </div>

      {/* x label: log(sigma2 / sigma1) */}
      <div style={abs({ left: 572, top: 617.5, fontSize: 17 })}>log</div>
      <div style={abs({ left: 598, top: 612, width: 22, textAlign: "center", fontSize: 12 })}>
        σ<span style={{ fontSize: 8.5, position: "relative", top: 2 }}>2</span>
      </div>
      <div style={{ position: "absolute", left: 598, top: 626.5, width: 21, height: 0, borderTop: "1px solid #000" }} />
      <div style={abs({ left: 598, top: 628, width: 22, textAlign: "center", fontSize: 12 })}>
        σ<span style={{ fontSize: 8.5, position: "relative", top: 2 }}>1</span>
      </div>
    </div>
  );
}
